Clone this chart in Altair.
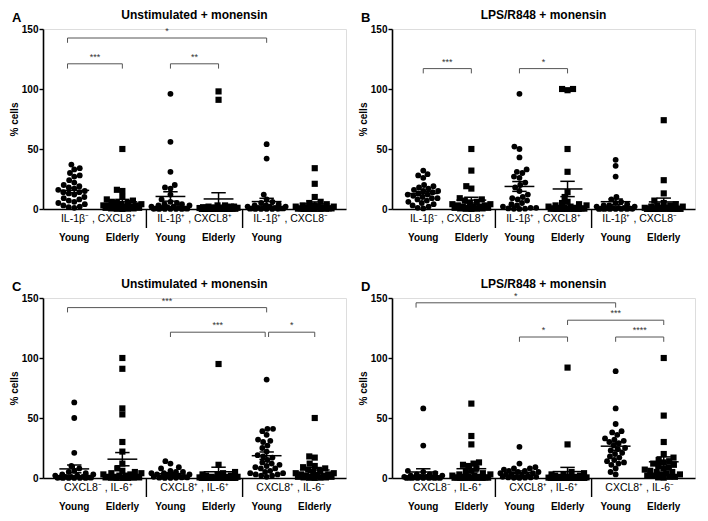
import math
import altair as alt
import pandas as pd

# ---------------- data ----------------
KINDS = ["Young", "Elderly", "Young", "Elderly", "Young", "Elderly"]

# Panel A: Unstimulated + monensin (IL-1b / CXCL8)
A_g1 = [37, 34, 33, 30, 28, 27, 24, 22, 20, 19, 18, 17, 16, 15, 14, 14, 13, 12, 10, 9, 8, 7, 6, 5, 4, 3, 2, 1.5, 1]
A_g2 = [50, 16, 15, 10, 8, 7, 6, 5, 5, 4, 4, 3, 3, 3, 2, 2, 2, 1, 1, 1, 0.5, 0.5, 0.3, 0.2, 0.1]
A_g3 = [96, 56, 31, 20, 18, 17, 12, 8, 6, 5, 4, 4, 3, 3, 2, 2, 1.5, 1, 1, 0.5, 0.5, 0.3, 0.2, 0.1, 0.1, 0.1, 0.1, 0.1]
A_g4 = [98, 91, 3, 3, 2, 2, 2, 1.5, 1, 1, 1, 0.8, 0.5, 0.5, 0.4, 0.3, 0.3, 0.2, 0.2, 0.1, 0.1, 0.1, 0.1, 0.1, 0.1]
A_g5 = [54, 42, 12, 8, 6, 5, 4, 3, 3, 2, 2, 2, 1, 1, 1, 0.5, 0.5, 0.5, 0.3, 0.2, 0.1, 0.1, 0.1, 0.1]
A_g6 = [34, 21, 10, 6, 5, 4, 3, 3, 2, 2, 2, 1, 1, 1, 0.5, 0.5, 0.5, 0.3, 0.2, 0.1, 0.1, 0.1, 0.1]

# Panel B: LPS/R848 + monensin (IL-1b / CXCL8)
B_g1 = [32, 29, 28, 26, 20, 19, 18, 17, 16, 15, 15, 14, 13, 12, 12, 11, 10, 9, 9, 8, 7, 6, 5, 4, 3, 2, 1, 0.5]
B_g2 = [50, 32, 19, 17, 9, 8, 7, 6, 5, 4, 4, 3, 3, 2, 2, 2, 1, 1, 1, 0.5, 0.5, 0.3, 0.2, 0.1]
B_g3 = [96, 52, 50, 43, 33, 31, 30, 27, 26, 22, 20, 18, 15, 12, 10, 9, 8, 7, 5, 4, 3, 2, 1, 1, 0.5, 0.3, 0.2, 0.1]
B_g4 = [100, 99, 100, 50, 31, 14, 10, 6, 5, 4, 3, 3, 2, 2, 1, 1, 1, 0.5, 0.5, 0.3, 0.2, 0.1, 0.1, 0.1, 0.1, 0.1]
B_g5 = [41, 36, 27, 10, 8, 6, 5, 4, 3, 3, 2, 2, 1, 1, 1, 0.5, 0.5, 0.3, 0.2, 0.1, 0.1, 0.1, 0.1, 0.1, 0.1]
B_g6 = [74, 24, 13, 7, 5, 4, 3, 3, 2, 2, 1, 1, 1, 0.5, 0.5, 0.3, 0.2, 0.1, 0.1, 0.1, 0.1, 0.1, 0.1, 0.1]

# Panel C: Unstimulated + monensin (CXCL8 / IL-6)
C_g1 = [63, 50, 21, 10, 8, 6, 5, 4, 3, 3, 2, 2, 1, 1, 1, 0.5, 0.5, 0.3, 0.2, 0.1, 0.1, 0.1, 0.1, 0.1]
C_g2 = [100, 91, 58, 53, 30, 22, 12, 8, 6, 5, 4, 4, 3, 3, 2, 2, 1, 1, 1, 0.5, 0.5, 0.3, 0.2, 0.1, 0.1, 0.1]
C_g3 = [14, 12, 9, 8, 6, 5, 5, 4, 4, 3, 3, 2, 2, 2, 1, 1, 1, 0.5, 0.5, 0.3, 0.2, 0.1, 0.1]
C_g4 = [95, 11, 5, 4, 3, 3, 2, 2, 1, 1, 1, 0.5, 0.5, 0.3, 0.2, 0.1, 0.1, 0.1, 0.1, 0.1, 0.1, 0.1, 0.1, 0.1, 0.1]
C_g5 = [82, 41, 41, 39, 36, 32, 31, 30, 27, 25, 22, 19, 18, 17, 15, 13, 12, 11, 10, 9, 8, 8, 6, 5, 4, 4, 3, 3, 2, 2, 1]
C_g6 = [50, 18, 17, 12, 10, 9, 8, 7, 6, 5, 4, 4, 3, 3, 2, 2, 2, 1, 1, 1, 0.5, 0.5, 0.3, 0.2, 0.1]

# Panel D: LPS/R848 + monensin (CXCL8 / IL-6)
D_g1 = [58, 27, 6, 5, 4, 3, 3, 2, 2, 1, 1, 1, 0.5, 0.5, 0.3, 0.2, 0.1, 0.1, 0.1, 0.1, 0.1, 0.1, 0.1]
D_g2 = [62, 35, 28, 13, 12, 11, 10, 8, 6, 5, 4, 3, 3, 2, 2, 1, 1, 1, 0.5, 0.5, 0.3, 0.2, 0.1, 0.1, 0.1, 0.1, 0.1]
D_g3 = [26, 12, 9, 8, 8, 7, 6, 6, 5, 5, 4, 4, 3, 3, 2, 2, 1, 1, 1, 0.5, 0.5, 0.3, 0.2, 0.1]
D_g4 = [92, 28, 5, 4, 3, 3, 2, 2, 1, 1, 1, 0.5, 0.5, 0.3, 0.2, 0.1, 0.1, 0.1, 0.1, 0.1, 0.1, 0.1, 0.1, 0.1, 0.1, 0.1, 0.1]
D_g5 = [89, 58, 45, 39, 38, 36, 33, 32, 31, 30, 29, 27, 25, 24, 23, 21, 20, 18, 17, 15, 14, 13, 12, 11, 8, 5, 3]
D_g6 = [100, 52, 30, 20, 17, 15, 14, 13, 12, 11, 10, 9, 8, 7, 6, 5, 5, 4, 3, 3, 2, 2, 1, 1, 0.5, 0.3]

IL1_LABELS = ["IL-1β⁻ , CXCL8⁺", "IL-1β⁺ , CXCL8⁺", "IL-1β⁺ , CXCL8⁻"]
IL6_LABELS = ["CXCL8⁻ , IL-6⁺", "CXCL8⁺ , IL-6⁺", "CXCL8⁺ , IL-6⁻"]
A_KIND_LABELS = ["Young", "Elderly", "Young", "Elderly", "Young", ""]
KIND_LABELS = ["Young", "Elderly", "Young", "Elderly", "Young", "Elderly"]

# brackets: (x_start, x_end, y, stars)
A_brackets = [(0.86, 5, 142.5, "*"), (0.86, 2, 121, "***"), (3, 4, 121, "**")]
B_brackets = [(1, 2, 117, "***"), (3, 4, 117, "*")]
C_brackets = [(0.86, 5, 142, "***"), (3, 4.97, 121.5, "***"), (5.04, 6, 121.5, "*")]
D_brackets = [(0.85, 5, 146, "*"), (4, 6, 131.5, "***"), (3, 4, 117.5, "*"), (5, 6, 117.5, "****")]

# ---------------- layout constants ----------------
W, H = 303, 180
XMIN, XMAX = 0.35, 6.65
PPX = W / (XMAX - XMIN)
PPY = H / 150.0
DIAM = 5.6
MAXW = 19.0
FONT = "Liberation Sans"


def swarm(vals):
    """Deterministic beeswarm offsets (pixels) with a capped half-width."""
    order = sorted(range(len(vals)), key=lambda i: vals[i])
    placed = []
    offs = [0.0] * len(vals)
    grid = [k * 0.5 for k in range(-int(MAXW * 2), int(MAXW * 2) + 1)]
    for i in order:
        y = vals[i] * PPY
        cands = [0.0]
        for px, py in placed:
            dy = abs(y - py)
            if dy < DIAM:
                dx = math.sqrt(DIAM * DIAM - dy * dy)
                cands += [px + dx, px - dx]
        cands = [c for c in cands if abs(c) <= MAXW + 1e-9]

        def mind(c):
            if not placed:
                return 1e9
            return min(math.hypot(c - px, y - py) for px, py in placed)

        free = [c for c in cands if mind(c) >= DIAM - 1e-6]
        if free:
            free.sort(key=lambda c: (round(abs(c), 6), c))
            best = free[0]
        else:
            best = max(grid, key=lambda c: (round(mind(c), 3), -abs(c)))
        offs[i] = best
        placed.append((best, y))
    return offs


xs = alt.Scale(domain=[XMIN, XMAX], nice=False, zero=False)
ys = alt.Scale(domain=[0, 150], nice=False, zero=True)
xaxis = alt.Axis(labels=False, ticks=False, title=None, grid=False,
                 domainColor="black", domainWidth=1.6)
yaxis = alt.Axis(values=[0, 50, 100, 150], title="% cells", grid=False,
                 domainColor="black", domainWidth=1.6, tickColor="black",
                 tickWidth=1.4, tickSize=4, labelFont=FONT, labelFontSize=10,
                 labelFontWeight="bold", labelColor="black", labelPadding=1,
                 titleFont=FONT, titleFontSize=10, titleFontWeight="bold",
                 titleColor="black", titlePadding=2)


def X(f):
    return alt.X(f, scale=xs, axis=xaxis)


def Y(f):
    return alt.Y(f, scale=ys, axis=yaxis)


def panel(letter, title, groups, glabels, klabels, brackets):
    rows = []
    for gi, vals in enumerate(groups, start=1):
        offs = swarm(vals)
        for v, o in zip(vals, offs):
            rows.append(dict(grp=gi, value=v, xpos=gi + o / PPX, kind=KINDS[gi - 1]))
    df = pd.DataFrame(rows)

    pts = alt.Chart(df).mark_point(filled=True, opacity=1, strokeWidth=0).encode(
        x=X("xpos:Q"), y=Y("value:Q"),
        shape=alt.Shape("kind:N", scale=alt.Scale(domain=["Young", "Elderly"], range=["circle", "square"]), legend=None),
        size=alt.Size("kind:N", scale=alt.Scale(domain=["Young", "Elderly"], range=[34, 38]), legend=None),
        color=alt.value("black"),
    )

    stats = alt.Chart(df).transform_aggregate(
        m="mean(value)", s="stderr(value)", groupby=["grp"]
    ).transform_calculate(
        lo="datum.m - datum.s", hi="datum.m + datum.s",
        ml="datum.grp - 0.31", mr="datum.grp + 0.31",
        cl="datum.grp - 0.15", cr="datum.grp + 0.15",
    )
    mean = stats.mark_rule(color="black", strokeWidth=1.5).encode(x=X("ml:Q"), x2="mr:Q", y=Y("m:Q"))
    ebar = stats.mark_rule(color="black", strokeWidth=1.5).encode(x=X("grp:Q"), y=Y("lo:Q"), y2="hi:Q")
    caph = stats.mark_rule(color="black", strokeWidth=1.5).encode(x=X("cl:Q"), x2="cr:Q", y=Y("hi:Q"))
    capl = stats.mark_rule(color="black", strokeWidth=1.5).encode(x=X("cl:Q"), x2="cr:Q", y=Y("lo:Q"))

    bdf = pd.DataFrame(brackets, columns=["x1", "x2", "y", "lab"])
    bdf["ylo"] = bdf["y"] - 4
    bdf["xm"] = (bdf["x1"] + bdf["x2"]) / 2
    legs = pd.concat([
        pd.DataFrame({"x": bdf["x1"], "y": bdf["y"], "ylo": bdf["ylo"]}),
        pd.DataFrame({"x": bdf["x2"], "y": bdf["y"], "ylo": bdf["ylo"]}),
    ])
    bh = alt.Chart(bdf).mark_rule(color="#555555", strokeWidth=1).encode(x=X("x1:Q"), x2="x2:Q", y=Y("y:Q"))
    bl = alt.Chart(legs).mark_rule(color="#555555", strokeWidth=1).encode(x=X("x:Q"), y=Y("ylo:Q"), y2="y:Q")
    bt = alt.Chart(bdf).mark_text(font=FONT, fontSize=9, color="#333333", baseline="bottom", dy=-2).encode(
        x=X("xm:Q"), y=Y("y:Q"), text="lab:N")

    sep = alt.Chart(pd.DataFrame({"x": [2.5, 4.5]})).mark_rule(color="black", strokeWidth=1.4).encode(
        x=X("x:Q"), y=alt.value(H), y2=alt.value(H + 19))
    gl = alt.Chart(pd.DataFrame({"x": [1.5, 3.5, 5.5], "t": glabels})).mark_text(
        font=FONT, fontSize=10.5, color="black", baseline="middle").encode(
        x=X("x:Q"), y=alt.value(H + 10), text="t:N")
    kl = alt.Chart(pd.DataFrame({"x": [1, 2, 3, 4, 5, 6], "t": klabels})).mark_text(
        font=FONT, fontSize=10, fontWeight="bold", color="black", baseline="middle").encode(
        x=X("x:Q"), y=alt.value(H + 29), text="t:N")
    lt = alt.Chart(pd.DataFrame({"t": [letter]})).mark_text(
        font=FONT, fontSize=13, fontWeight="bold", color="black", align="left", baseline="middle").encode(
        x=alt.value(-31), y=alt.value(-11), text="t:N")
    tt = alt.Chart(pd.DataFrame({"t": [title]})).mark_text(
        font=FONT, fontSize=12, fontWeight="bold", color="black", align="center", baseline="middle").encode(
        x=alt.value(W / 2), y=alt.value(-14), text="t:N")

    return alt.layer(bh, bl, bt, sep, gl, kl, lt, tt, pts, mean, ebar, caph, capl).properties(
        width=W, height=H,
    )


pA = panel("A", "Unstimulated + monensin", [A_g1, A_g2, A_g3, A_g4, A_g5, A_g6], IL1_LABELS, A_KIND_LABELS, A_brackets)
pB = panel("B", "LPS/R848 + monensin", [B_g1, B_g2, B_g3, B_g4, B_g5, B_g6], IL1_LABELS, KIND_LABELS, B_brackets)
pC = panel("C", "Unstimulated + monensin", [C_g1, C_g2, C_g3, C_g4, C_g5, C_g6], IL6_LABELS, KIND_LABELS, C_brackets)
pD = panel("D", "LPS/R848 + monensin", [D_g1, D_g2, D_g3, D_g4, D_g5, D_g6], IL6_LABELS, KIND_LABELS, D_brackets)

chart = alt.vconcat(
    alt.hconcat(pA, pB, spacing=10),
    alt.hconcat(pC, pD, spacing=10),
    spacing=33,
).properties(padding=0).configure_view(stroke=None).configure(background="white")

chart.save("out.html", embed_options={"renderer": "svg", "actions": False})
